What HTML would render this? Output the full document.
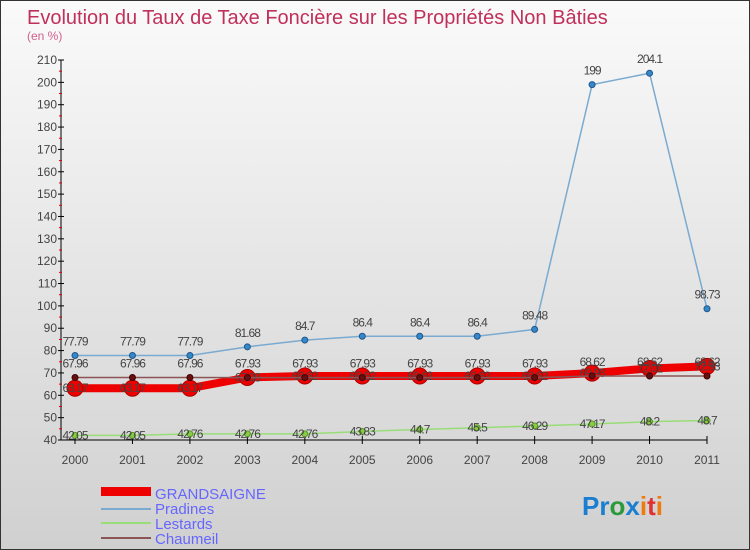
<!DOCTYPE html>
<html><head><meta charset="utf-8"><style>
body{margin:0;}
svg{display:block;font-family:"Liberation Sans",sans-serif;}
</style></head><body>
<svg id="c" width="750" height="550" xmlns="http://www.w3.org/2000/svg">
<defs><linearGradient id="bg" x1="0" y1="0" x2="0" y2="1"><stop offset="0" stop-color="#fafafa"/><stop offset="1" stop-color="#d0d0d0"/></linearGradient></defs>
<rect x="0.5" y="0.5" width="749" height="549" fill="url(#bg)" stroke="#333"/>
<text x="27" y="24" font-size="20" fill="#c0305a">Evolution du Taux de Taxe Foncière sur les Propriétés Non Bâties</text>
<text x="27" y="40" font-size="12" fill="#d0608a">(en %)</text>
<g id="axes"></g>
<g id="series"></g>
<g id="legend">
<rect x="101" y="487" width="50" height="9" fill="#e00"/>
<text x="155" y="499" font-size="15" fill="#6666ff">GRANDSAIGNE</text>
<rect x="101" y="508" width="50" height="2" fill="#7aaad0"/>
<text x="155" y="514" font-size="15" fill="#6666ff">Pradines</text>
<rect x="101" y="522" width="50" height="2" fill="#99dd77"/>
<text x="155" y="529" font-size="15" fill="#6666ff">Lestards</text>
<rect x="101" y="537" width="50" height="2" fill="#8b5555"/>
<text x="155" y="544" font-size="15" fill="#6666ff">Chaumeil</text>
</g>
<text x="582" y="515" font-size="26" font-weight="bold"><tspan fill="#1a7fd0">Pr</tspan><tspan fill="#2a9a3a">o</tspan><tspan fill="#1a7fd0">x</tspan><tspan fill="#f07a10">i</tspan><tspan fill="#e03030">t</tspan><tspan fill="#f07a10">i</tspan></text>
</svg>
<script>
const years=["2000","2001","2002","2003","2004","2005","2006","2007","2008","2009","2010","2011"];
const yTicks=[40,50,60,70,80,90,100,110,120,130,140,150,160,170,180,190,200,210];
const grandsaigne=[63.17,63.17,63.17,67.98,68.62,68.62,68.62,68.62,68.62,69.93,72.01,72.93];
const pradines=[77.79,77.79,77.79,81.68,84.7,86.4,86.4,86.4,89.48,199,204.1,98.73];
const lestards=[42.05,42.05,42.76,42.76,42.76,43.83,44.7,45.5,46.29,47.17,48.2,48.7];
const chaumeil=[67.96,67.96,67.96,67.93,67.93,67.93,67.93,67.93,67.93,68.62,68.62,68.62];
const NS="http://www.w3.org/2000/svg";
const X=i=>75+i*(707-75)/11;
const Y=v=>440-(v-40)*(380/170);
function mk(t,a,p){const e=document.createElementNS(NS,t);for(const k in a)e.setAttribute(k,a[k]);p.appendChild(e);return e;}
const ax=document.getElementById('axes');
let l=mk('line',{x1:61,y1:Y(40),x2:61,y2:Y(210),stroke:'#000'},ax);


l=mk('line',{x1:61,y1:Y(40),x2:707,y2:Y(40),stroke:'#000'},ax);


yTicks.forEach(v=>{
 mk('line',{x1:58,y1:Y(v),x2:64,y2:Y(v),stroke:'#000'},ax);
 if(v<210)mk('line',{x1:59,y1:Y(v+5),x2:62,y2:Y(v+5),stroke:'#d00'},ax);
 const t=mk('text',{x:57,y:Y(v)+4,'font-size':12,fill:'#444','text-anchor':'end'},ax);t.textContent=v;
 
 
});
years.forEach((y,i)=>{
 mk('line',{x1:X(i),y1:Y(40)-4,x2:X(i),y2:Y(40)+4,stroke:'#000'},ax);
 const t=mk('text',{x:X(i),y:Y(40)+24,'font-size':12,fill:'#444','text-anchor':'middle'},ax);t.textContent=y;
 
 
});
const sg=document.getElementById('series');
function series(name,vals,color,w,r,dot,dotStroke,labelDy){
 const g=mk('g',{},sg);
 
 
 const p=mk('polyline',{points:vals.map((v,i)=>X(i)+','+Y(v)).join(' '),fill:'none',stroke:color,'stroke-width':w},g);
 
 
 vals.forEach((v,i)=>{
  const c=mk('circle',{cx:X(i),cy:Y(v),r:r,fill:dot,stroke:dotStroke},g);
  
  
  const t=mk('text',{x:X(i),y:Y(v)+labelDy,'font-size':12,fill:'#444','text-anchor':'middle','letter-spacing':'-1'},g);t.textContent=v;
  
  
 });
}
series('lestards',lestards,'#99dd77',1.5,3,'#88cc44','#559922',4);
series('pradines',pradines,'#7aaad0',1.5,3,'#3388cc','#225588',-10);
series('grandsaigne',grandsaigne,'#ee0000',8,8,'#ee0000','#aa0000',4);
series('chaumeil',chaumeil,'#8b5555',1.5,3,'#661111','#440000',-10);
</script>
</body></html>
